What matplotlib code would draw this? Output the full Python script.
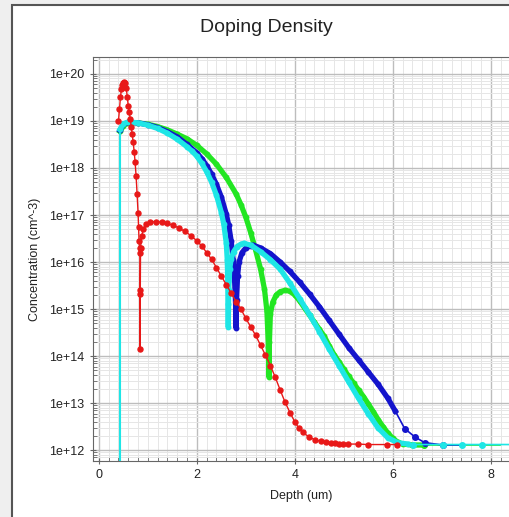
import numpy as np
import matplotlib
matplotlib.use("Agg")
import matplotlib.pyplot as plt
from matplotlib.ticker import LogLocator, MultipleLocator, NullFormatter, FuncFormatter
from matplotlib.patches import Rectangle

plt.rcParams['font.family'] = ['Liberation Sans', 'DejaVu Sans']

# valores: profundidade (um) e log10 da concentracao (cm^-3)
red_x = [0.40, 0.42, 0.44, 0.46, 0.48, 0.50, 0.52, 0.54, 0.56, 0.58, 0.60, 0.62,
         0.64, 0.66, 0.68, 0.70, 0.72, 0.74, 0.76, 0.78, 0.80, 0.81, 0.82, 0.83,
         0.84, 0.84, 0.84, 0.845, 0.85, 0.87, 0.91, 0.97, 1.05, 1.16, 1.28, 1.40,
         1.52, 1.64, 1.76, 1.88, 2.00, 2.10, 2.20, 2.30, 2.40, 2.50, 2.60, 2.70,
         2.80, 2.90, 3.00, 3.10, 3.20, 3.30, 3.40, 3.50, 3.60, 3.70, 3.80, 3.90,
         4.00, 4.08, 4.16, 4.29, 4.41, 4.53, 4.63, 4.73, 4.82, 4.90, 4.98, 5.08,
         5.29, 5.49, 5.88, 6.08]
red_log = [19.00, 19.25, 19.50, 19.68, 19.77, 19.81, 19.82, 19.80, 19.70, 19.50, 19.32, 19.18,
           19.05, 18.88, 18.72, 18.55, 18.35, 18.12, 17.82, 17.45, 17.04, 16.75, 16.45, 16.30,
           16.19, 15.33, 14.16, 15.40, 16.30, 16.55, 16.70, 16.80, 16.85, 16.86, 16.85, 16.82,
           16.78, 16.72, 16.65, 16.56, 16.45, 16.34, 16.20, 16.06, 15.88, 15.70, 15.52, 15.34,
           15.16, 15.00, 14.80, 14.62, 14.44, 14.23, 14.02, 13.80, 13.55, 13.28, 13.02, 12.80,
           12.60, 12.47, 12.38, 12.28, 12.22, 12.19, 12.17, 12.16, 12.15, 12.14, 12.14, 12.13,
           12.13, 12.12, 12.12, 12.12]

green_x = [0.43, 0.50, 0.60, 0.80, 1.00, 1.20, 1.40, 1.60, 1.80, 2.00, 2.20, 2.40,
           2.60, 2.80, 2.90, 3.00, 3.10, 3.20, 3.30, 3.38, 3.43, 3.46, 3.47, 3.48,
           3.50, 3.55, 3.62, 3.70, 3.80, 3.90, 4.00, 4.10, 4.20, 4.30, 4.40, 4.50,
           4.60, 4.70, 4.80, 4.90, 5.00, 5.10, 5.20, 5.30, 5.40, 5.50, 5.60, 5.70,
           5.80, 5.90, 6.00, 6.10, 6.20, 6.40, 6.63]
green_log = [18.78, 18.90, 18.96, 18.96, 18.93, 18.88, 18.81, 18.72, 18.62, 18.48, 18.30, 18.08,
             17.80, 17.45, 17.22, 16.95, 16.62, 16.25, 15.85, 15.42, 14.95, 14.20, 13.56, 14.30,
             14.90, 15.15, 15.30, 15.37, 15.40, 15.38, 15.30, 15.17, 15.02, 14.87, 14.72, 14.57,
             14.42, 14.22, 14.03, 13.88, 13.72, 13.57, 13.42, 13.28, 13.14, 12.98, 12.82, 12.65,
             12.50, 12.36, 12.25, 12.17, 12.13, 12.11, 12.11]
green_tail_x = [6.63, 7.20, 7.80, 8.18]
green_tail_log = [12.11, 12.11, 12.11, 12.11]

blue_x = [0.43, 0.50, 0.60, 0.80, 1.00, 1.20, 1.40, 1.60, 1.80, 2.00, 2.10, 2.20,
          2.30, 2.40, 2.50, 2.60, 2.65, 2.70, 2.74, 2.77, 2.79, 2.80, 2.81, 2.83,
          2.86, 2.92, 3.00, 3.10, 3.15, 3.30, 3.50, 3.70, 3.90, 4.10, 4.30, 4.50,
          4.70, 4.90, 5.10, 5.30, 5.50, 5.70, 5.90, 6.05]
blue_log = [18.80, 18.93, 18.97, 18.96, 18.92, 18.86, 18.77, 18.66, 18.50, 18.32, 18.20, 18.05,
            17.87, 17.65, 17.38, 17.02, 16.78, 16.45, 16.05, 15.60, 15.10, 14.60, 15.20, 15.70,
            16.00, 16.20, 16.30, 16.35, 16.36, 16.30, 16.18, 16.00, 15.80, 15.57, 15.32, 15.05,
            14.76, 14.47, 14.18, 13.92, 13.66, 13.40, 13.10, 12.83]
blue_tail_x = [6.05, 6.24, 6.45, 6.65, 7.02, 7.40]
blue_tail_log = [12.83, 12.46, 12.28, 12.16, 12.11, 12.11]

cyan_x = [0.43, 0.43, 0.50, 0.60, 0.80, 1.00, 1.20, 1.40, 1.60, 1.80, 1.90, 2.00,
          2.10, 2.20, 2.30, 2.40, 2.50, 2.55, 2.60, 2.62, 2.63, 2.635, 2.64, 2.65,
          2.67, 2.70, 2.75, 2.82, 2.90, 2.96, 3.10, 3.30, 3.50, 3.70, 3.90, 4.10,
          4.30, 4.50, 4.70, 4.90, 5.10, 5.30, 5.50, 5.70, 5.90, 6.10, 6.30]
cyan_log = [11.0, 18.82, 18.94, 18.98, 18.96, 18.91, 18.84, 18.74, 18.61, 18.45, 18.36, 18.25,
            18.10, 17.92, 17.70, 17.42, 17.05, 16.80, 16.40, 16.05, 15.60, 15.10, 14.62, 15.40,
            15.85, 16.07, 16.22, 16.33, 16.38, 16.40, 16.36, 16.22, 16.05, 15.85, 15.55, 15.22,
            14.88, 14.52, 14.15, 13.80, 13.45, 13.10, 12.77, 12.47, 12.26, 12.16, 12.13]
cyan_tail_x = [6.30, 6.41, 7.02, 7.41, 7.82, 8.40]
cyan_tail_log = [12.13, 12.12, 12.12, 12.12, 12.12, 12.12]

x_ticks = [0, 2, 4, 6, 8]
y_ticks = [1e12, 1e13, 1e14, 1e15, 1e16, 1e17, 1e18, 1e19, 1e20]


def conc(v):
    return np.power(10.0, np.array(v))


fig = plt.figure(figsize=(5.09, 5.17), dpi=100)
fig.patch.set_facecolor('#efefef')
# moldura branca do painel
fig.patches.append(Rectangle((12 / 509, -0.01), 1.0, 1 - 5 / 517 + 0.01, transform=fig.transFigure,
                             facecolor='white', edgecolor='#555555', linewidth=1.5, zorder=-5))

ax = fig.add_axes([93 / 509, 1 - 461 / 517, 1 - 93 / 509, (461 - 57) / 517])
ax.set_zorder(1)
ax.set_yscale('log')
ax.set_xlim(-0.12, 8.37)
ax.set_ylim(10 ** 11.77, 10 ** 20.36)

ax.xaxis.set_major_locator(MultipleLocator(2))
ax.xaxis.set_minor_locator(MultipleLocator(0.2))
ax.yaxis.set_major_locator(LogLocator(base=10, numticks=20))
ax.yaxis.set_minor_locator(LogLocator(base=10, subs=np.arange(2, 10), numticks=20))
ax.yaxis.set_minor_formatter(NullFormatter())
ax.yaxis.set_major_formatter(FuncFormatter(lambda v, p: "1e+%d" % round(np.log10(v))))
ax.set_xticks(x_ticks)
ax.set_yticks(y_ticks)

ax.grid(True, which='major', color='#bdbdbd', linewidth=1.0)
ax.grid(True, which='minor', color='#e6e6e6', linewidth=0.7)
ax.set_axisbelow(True)

ax.tick_params(which='major', direction='inout', length=5, color='#666666', labelsize=9,
               labelcolor='#222222')
ax.tick_params(which='minor', direction='in', length=3, color='#666666')
for s in ['left', 'bottom', 'top']:
    ax.spines[s].set_color('#666666')
ax.spines['right'].set_visible(False)

# curvas de dopagem
ax.plot(green_tail_x, conc(green_tail_log), color='#22e622', lw=1.2, marker='o', ms=4,
        markevery=[0])
ax.plot(green_x, conc(green_log), color='#22e622', lw=3.8, marker='o', ms=3.2)
ax.plot(blue_tail_x, conc(blue_tail_log), color='#1414cc', lw=1.2, marker='o', ms=4,
        markevery=[1, 2, 3, 4])
ax.plot(blue_x, conc(blue_log), color='#1414cc', lw=3.8, marker='o', ms=3.2)
ax.plot(cyan_tail_x, conc(cyan_tail_log), color='#1ee6e6', lw=1.2, marker='o', ms=4,
        markevery=[1, 2, 3, 4])
ax.plot(cyan_x[:2], conc(cyan_log[:2]), color='#1ee6e6', lw=1.5)
ax.plot(cyan_x[1:], conc(cyan_log[1:]), color='#1ee6e6', lw=3.8, marker='o', ms=3.2)
ax.plot(red_x, conc(red_log), color='#e81818', lw=1.0, marker='o', ms=3.6)

ax.set_xlabel("Depth (um)", fontsize=9, color='#222222', labelpad=6)
ax.set_ylabel("Concentration (cm^-3)", fontsize=9, color='#222222', labelpad=6)
fig.text(266 / 509, 1 - 28 / 517, "Doping Density", fontsize=14, ha='center', va='center',
         color='#222222')

fig.savefig("out.png", dpi=100)
